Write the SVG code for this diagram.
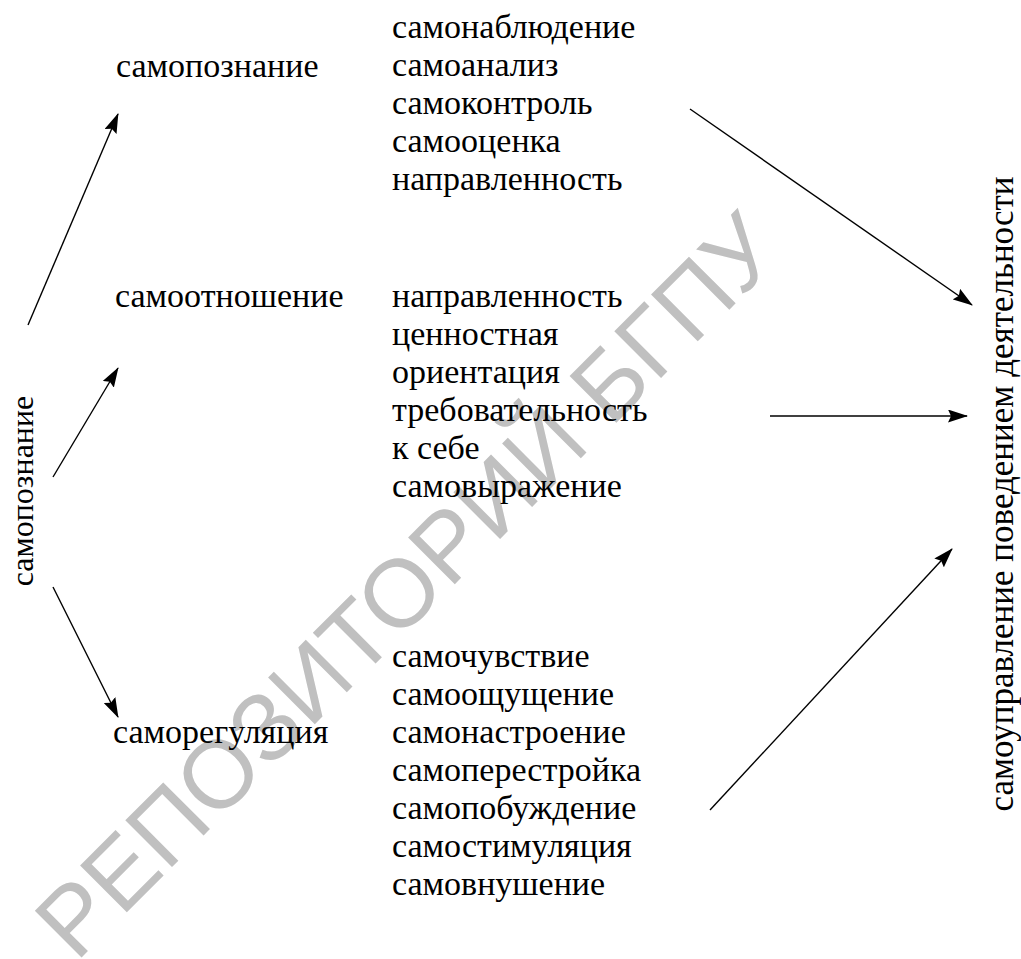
<svg xmlns="http://www.w3.org/2000/svg" width="1021" height="959" viewBox="0 0 1021 959">
<style>
.t{font-family:"Liberation Serif","Times New Roman",serif;font-size:34px;fill:#000}
.c{stroke:#000;stroke-width:1.4;fill:none;marker-end:url(#ah)}
.wm{font-family:"Liberation Sans",Arial,sans-serif;font-size:96px;fill:#c0c0c0}
</style>
<defs>
<marker id="ah" markerUnits="userSpaceOnUse" markerWidth="20" markerHeight="13" refX="19" refY="6.5" orient="auto" viewBox="0 0 20 13">
<path d="M0,0 L20,6.5 L0,13 L3,6.5 z" fill="#000"/>
</marker>
</defs>
<rect width="1021" height="959" fill="#fff"/>
<text class="wm" transform="translate(76,963) rotate(-45)">РЕПОЗИТОРИЙ БГПУ</text>
<g id="root"><text class="t" style="font-size:32px" transform="translate(33,491) rotate(-90)" text-anchor="middle">самопознание</text></g>
<g id="n1"><text class="t" x="116" y="77">самопознание</text></g>
<g id="n2"><text class="t" x="115" y="307">самоотношение</text></g>
<g id="n3"><text class="t" x="113" y="743">саморегуляция</text></g>
<g id="list1"><text class="t" x="392" y="38">самонаблюдение</text><text class="t" x="392" y="76">самоанализ</text><text class="t" x="392" y="114">самоконтроль</text><text class="t" x="392" y="152">самооценка</text><text class="t" x="392" y="190">направленность</text></g>
<g id="list2"><text class="t" x="392" y="307">направленность</text><text class="t" x="392" y="345">ценностная</text><text class="t" x="392" y="383">ориентация</text><text class="t" x="392" y="421">требовательность</text><text class="t" x="392" y="459">к себе</text><text class="t" x="392" y="497">самовыражение</text></g>
<g id="list3"><text class="t" x="392" y="667">самочувствие</text><text class="t" x="392" y="705">самоощущение</text><text class="t" x="392" y="743">самонастроение</text><text class="t" x="392" y="781">самоперестройка</text><text class="t" x="392" y="819">самопобуждение</text><text class="t" x="392" y="857">самостимуляция</text><text class="t" x="392" y="895">самовнушение</text></g>
<g id="target"><text class="t" style="font-size:35px" transform="translate(1013,494) rotate(-90)" text-anchor="middle">самоуправление поведением деятельности</text></g>
<g id="connectors">
<line class="c" x1="28" y1="325" x2="118" y2="114"/>
<line class="c" x1="53" y1="477" x2="118" y2="368"/>
<line class="c" x1="53" y1="587" x2="118" y2="717"/>
<line class="c" x1="690" y1="109" x2="972" y2="305"/>
<line class="c" x1="770" y1="416" x2="967" y2="416"/>
<line class="c" x1="710" y1="810" x2="952" y2="549"/>
</g>
</svg>
